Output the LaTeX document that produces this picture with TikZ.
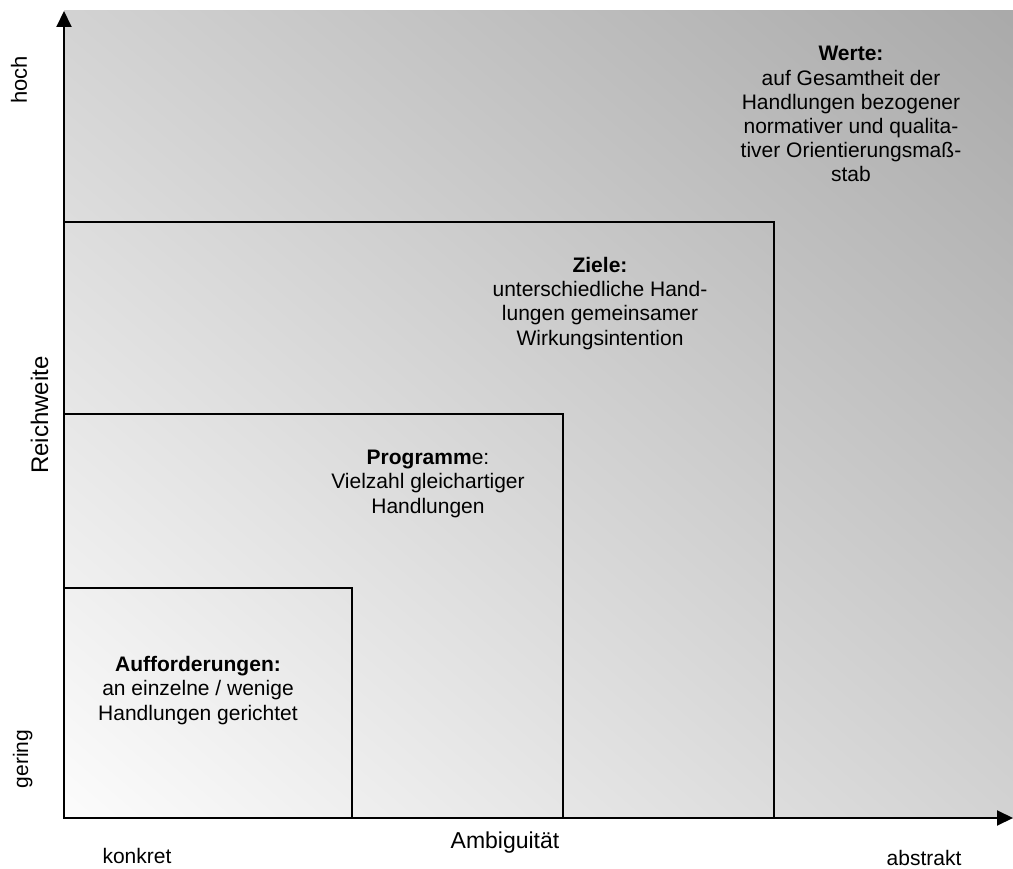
\documentclass[tikz,border=0pt]{standalone}
\usepackage{fontspec}
\setmainfont{Liberation Sans}
\usetikzlibrary{arrows.meta,shadings}
\definecolor{shadeLL}{gray}{0.988}
\definecolor{shadeMid}{gray}{0.825}
\definecolor{shadeUR}{gray}{0.665}
\begin{document}
\begin{tikzpicture}[x=1pt,y=-1pt,
  txt/.style={font=\fontsize{21}{24.2}\selectfont, align=center, inner sep=0pt, anchor=base},
  axislabel/.style={font=\fontsize{21}{24}\selectfont, inner sep=0pt, anchor=base},
  level/.style={draw=black, line width=1.6pt},
  axis/.style={line width=2pt, -{Triangle[length=16pt,width=15pt]}}]
\useasboundingbox (0,0) rectangle (1013,869);

% graded background: the widest level (Werte)
\shade[lower left=shadeLL, upper left=shadeMid, lower right=shadeMid, upper right=shadeUR]
  (64,11) rectangle (1013,818);

% nested levels
\draw[level] (64,222) rectangle (774,818);
\draw[level] (64,414) rectangle (563,818);
\draw[level] (64,588) rectangle (352,818);

% level descriptions (anchored at the baseline of their last line)
\node[txt] (werte) at (851,182) {\textbf{Werte:}\\auf Gesamtheit der\\Handlungen bezogener\\normativer und qualita-\\tiver Orientierungsmaß-\\stab};
\node[txt] (ziele) at (600,345) {\textbf{Ziele:}\\unterschiedliche Hand-\\lungen gemeinsamer\\Wirkungsintention};
\node[txt] (programme) at (428,513) {\textbf{Programm}e:\\Vielzahl gleichartiger\\Handlungen};
\node[txt] (auff) at (198,720) {\textbf{Aufforderungen:}\\an einzelne / wenige\\Handlungen gerichtet};

% axes
\coordinate (origin) at (64,818);
\coordinate (ytip) at (64,11);
\coordinate (xtip) at (1013,818);
\draw[axis] (origin) -- (ytip);
\draw[axis] (origin) -- (xtip);

% axis labels
\node[axislabel, rotate=90, font=\fontsize{22}{26}\selectfont] (hoch) at (27,80) {hoch};
\node[axislabel, rotate=90] (gering) at (28,759) {gering};
\node[axislabel, rotate=90, font=\fontsize{24}{28}\selectfont] (reichweite) at (48,415) {Reichweite};
\node[axislabel, font=\fontsize{23}{27}\selectfont] (ambig) at (505,848) {Ambiguität};
\node[axislabel] (konkret) at (137,863) {konkret};
\node[axislabel] (abstrakt) at (924,865) {abstrakt};
\end{tikzpicture}
\end{document}
